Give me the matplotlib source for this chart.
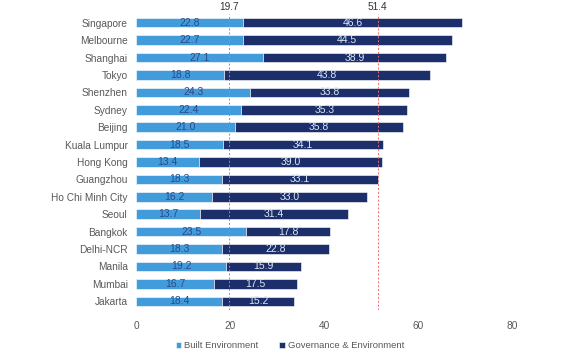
import matplotlib
matplotlib.use("Agg")
import matplotlib.pyplot as plt
import numpy as np

plt.rcParams["font.family"] = ["Liberation Sans", "DejaVu Sans"]

cities = ["Singapore", "Melbourne", "Shanghai", "Tokyo", "Shenzhen", "Sydney", "Beijing",
          "Kuala Lumpur", "Hong Kong", "Guangzhou", "Ho Chi Minh City", "Seoul", "Bangkok",
          "Delhi-NCR", "Manila", "Mumbai", "Jakarta"]
built = [22.8, 22.7, 27.1, 18.8, 24.3, 22.4, 21.0, 18.5, 13.4, 18.3, 16.2, 13.7, 23.5, 18.3, 19.2, 16.7, 18.4]
gov = [46.6, 44.5, 38.9, 43.8, 33.8, 35.3, 35.8, 34.1, 39.0, 33.1, 33.0, 31.4, 17.8, 22.8, 15.9, 17.5, 15.2]
ref_lines = [19.7, 51.4]
series_names = ["Built Environment", "Governance & Environment"]
xticks = [0, 20, 40, 60, 80]

light = "#429cdb"
dark = "#1c2f6a"

fig = plt.figure(figsize=(5.8, 3.52), dpi=100)
ax = fig.add_axes([136/580, 1 - 310/352, (512-136)/580, 296/352])

y = np.arange(len(cities))
h = 0.55
b1 = ax.barh(y, built, height=h, color=light, edgecolor="white", linewidth=0.4, label=series_names[0])
b2 = ax.barh(y, gov, left=built, height=h, color=dark, edgecolor="white", linewidth=0.4, label=series_names[1])

for yi, bv, gv in zip(y, built, gov):
    ax.text(bv / 2, yi, f"{bv:.1f}", ha="center", va="center", fontsize=7.5, color="#2a4a8a")
    ax.text(bv + gv / 2, yi, f"{gv:.1f}", ha="center", va="center", fontsize=7.5, color="#dfe6f2")

for v in ref_lines:
    ax.axvline(v, color="#ee6b6e", linestyle=(0, (2, 2)), linewidth=0.7, ymin=0, ymax=1.0)
    ax.text(v, 1.025, f"{v}", transform=ax.get_xaxis_transform(), ha="center", va="center",
            fontsize=7.3, color="#333333")

ax.set_ylim(len(cities) - 0.5, -0.5)
ax.set_xlim(0, 80)
ax.set_xticks(xticks)
ax.set_yticks(y)
ax.set_yticklabels(cities)
for s in ax.spines.values():
    s.set_visible(False)
ax.tick_params(axis="both", length=0, labelsize=7.3, colors="#595959")
ax.tick_params(axis="x", pad=8)
ax.tick_params(axis="y", pad=6)

fig.legend(handles=[b1, b2], loc="lower center", bbox_to_anchor=(0.5, -0.018), ncol=2, frameon=False,
           fontsize=6.8, labelcolor="#595959", handlelength=0.6, handleheight=0.6, handletextpad=0.3,
           columnspacing=2.2)

fig.savefig("out.png", dpi=100)
